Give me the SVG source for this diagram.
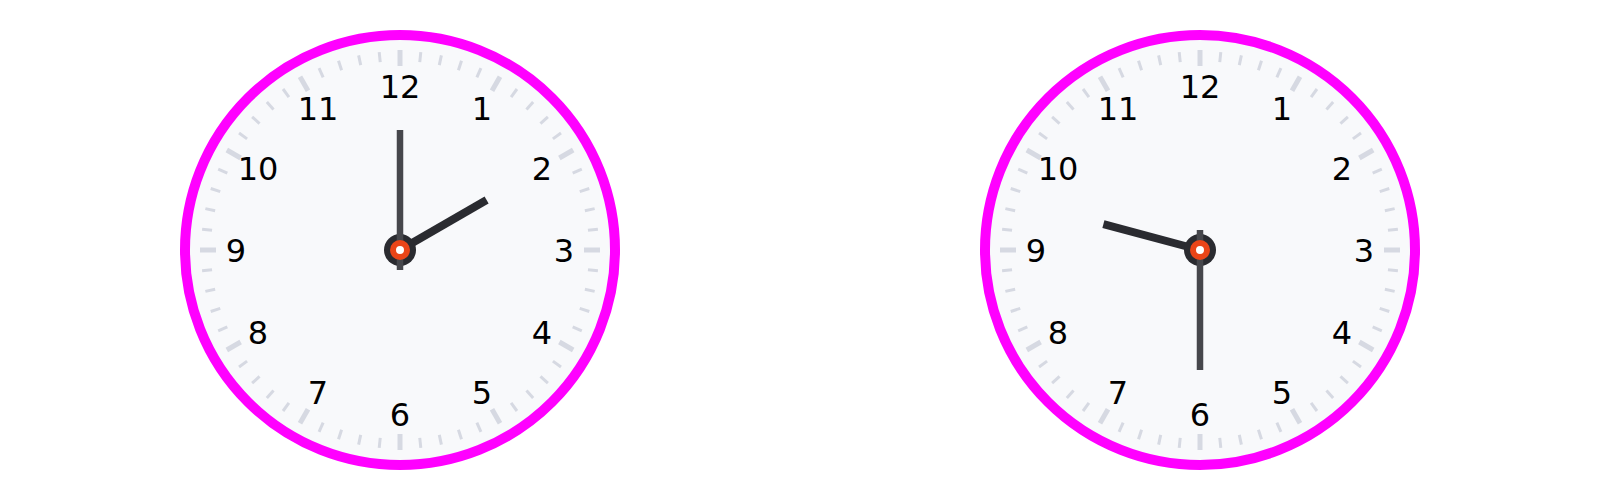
<svg xmlns="http://www.w3.org/2000/svg" xmlns:xlink="http://www.w3.org/1999/xlink" width="1600" height="500" viewBox="0 0 1600 500">
<style>
.face{fill:#f8f9fb;stroke:#ff00ff;stroke-width:10}
.minor{stroke:#d6d9e2;stroke-width:3}
.major{stroke:#d6d9e2;stroke-width:5}
.num{font-family:"DejaVu Sans",sans-serif;font-size:32px;fill:#000;text-anchor:middle}
.hour{stroke:#2a2b30;stroke-width:8}
.minute{stroke:#46474c;stroke-width:6.5}
.hub{fill:#2a2b30}
.pin{fill:#ffffff;stroke:#ea4518;stroke-width:6}
</style>
<defs>
<g id="ticks">
<line class="major" x1="0" y1="-200" x2="0" y2="-184" transform="rotate(0)"/>
<line class="minor" x1="0" y1="-199" x2="0" y2="-189" transform="rotate(6)"/>
<line class="minor" x1="0" y1="-199" x2="0" y2="-189" transform="rotate(12)"/>
<line class="minor" x1="0" y1="-199" x2="0" y2="-189" transform="rotate(18)"/>
<line class="minor" x1="0" y1="-199" x2="0" y2="-189" transform="rotate(24)"/>
<line class="major" x1="0" y1="-200" x2="0" y2="-184" transform="rotate(30)"/>
<line class="minor" x1="0" y1="-199" x2="0" y2="-189" transform="rotate(36)"/>
<line class="minor" x1="0" y1="-199" x2="0" y2="-189" transform="rotate(42)"/>
<line class="minor" x1="0" y1="-199" x2="0" y2="-189" transform="rotate(48)"/>
<line class="minor" x1="0" y1="-199" x2="0" y2="-189" transform="rotate(54)"/>
<line class="major" x1="0" y1="-200" x2="0" y2="-184" transform="rotate(60)"/>
<line class="minor" x1="0" y1="-199" x2="0" y2="-189" transform="rotate(66)"/>
<line class="minor" x1="0" y1="-199" x2="0" y2="-189" transform="rotate(72)"/>
<line class="minor" x1="0" y1="-199" x2="0" y2="-189" transform="rotate(78)"/>
<line class="minor" x1="0" y1="-199" x2="0" y2="-189" transform="rotate(84)"/>
<line class="major" x1="0" y1="-200" x2="0" y2="-184" transform="rotate(90)"/>
<line class="minor" x1="0" y1="-199" x2="0" y2="-189" transform="rotate(96)"/>
<line class="minor" x1="0" y1="-199" x2="0" y2="-189" transform="rotate(102)"/>
<line class="minor" x1="0" y1="-199" x2="0" y2="-189" transform="rotate(108)"/>
<line class="minor" x1="0" y1="-199" x2="0" y2="-189" transform="rotate(114)"/>
<line class="major" x1="0" y1="-200" x2="0" y2="-184" transform="rotate(120)"/>
<line class="minor" x1="0" y1="-199" x2="0" y2="-189" transform="rotate(126)"/>
<line class="minor" x1="0" y1="-199" x2="0" y2="-189" transform="rotate(132)"/>
<line class="minor" x1="0" y1="-199" x2="0" y2="-189" transform="rotate(138)"/>
<line class="minor" x1="0" y1="-199" x2="0" y2="-189" transform="rotate(144)"/>
<line class="major" x1="0" y1="-200" x2="0" y2="-184" transform="rotate(150)"/>
<line class="minor" x1="0" y1="-199" x2="0" y2="-189" transform="rotate(156)"/>
<line class="minor" x1="0" y1="-199" x2="0" y2="-189" transform="rotate(162)"/>
<line class="minor" x1="0" y1="-199" x2="0" y2="-189" transform="rotate(168)"/>
<line class="minor" x1="0" y1="-199" x2="0" y2="-189" transform="rotate(174)"/>
<line class="major" x1="0" y1="-200" x2="0" y2="-184" transform="rotate(180)"/>
<line class="minor" x1="0" y1="-199" x2="0" y2="-189" transform="rotate(186)"/>
<line class="minor" x1="0" y1="-199" x2="0" y2="-189" transform="rotate(192)"/>
<line class="minor" x1="0" y1="-199" x2="0" y2="-189" transform="rotate(198)"/>
<line class="minor" x1="0" y1="-199" x2="0" y2="-189" transform="rotate(204)"/>
<line class="major" x1="0" y1="-200" x2="0" y2="-184" transform="rotate(210)"/>
<line class="minor" x1="0" y1="-199" x2="0" y2="-189" transform="rotate(216)"/>
<line class="minor" x1="0" y1="-199" x2="0" y2="-189" transform="rotate(222)"/>
<line class="minor" x1="0" y1="-199" x2="0" y2="-189" transform="rotate(228)"/>
<line class="minor" x1="0" y1="-199" x2="0" y2="-189" transform="rotate(234)"/>
<line class="major" x1="0" y1="-200" x2="0" y2="-184" transform="rotate(240)"/>
<line class="minor" x1="0" y1="-199" x2="0" y2="-189" transform="rotate(246)"/>
<line class="minor" x1="0" y1="-199" x2="0" y2="-189" transform="rotate(252)"/>
<line class="minor" x1="0" y1="-199" x2="0" y2="-189" transform="rotate(258)"/>
<line class="minor" x1="0" y1="-199" x2="0" y2="-189" transform="rotate(264)"/>
<line class="major" x1="0" y1="-200" x2="0" y2="-184" transform="rotate(270)"/>
<line class="minor" x1="0" y1="-199" x2="0" y2="-189" transform="rotate(276)"/>
<line class="minor" x1="0" y1="-199" x2="0" y2="-189" transform="rotate(282)"/>
<line class="minor" x1="0" y1="-199" x2="0" y2="-189" transform="rotate(288)"/>
<line class="minor" x1="0" y1="-199" x2="0" y2="-189" transform="rotate(294)"/>
<line class="major" x1="0" y1="-200" x2="0" y2="-184" transform="rotate(300)"/>
<line class="minor" x1="0" y1="-199" x2="0" y2="-189" transform="rotate(306)"/>
<line class="minor" x1="0" y1="-199" x2="0" y2="-189" transform="rotate(312)"/>
<line class="minor" x1="0" y1="-199" x2="0" y2="-189" transform="rotate(318)"/>
<line class="minor" x1="0" y1="-199" x2="0" y2="-189" transform="rotate(324)"/>
<line class="major" x1="0" y1="-200" x2="0" y2="-184" transform="rotate(330)"/>
<line class="minor" x1="0" y1="-199" x2="0" y2="-189" transform="rotate(336)"/>
<line class="minor" x1="0" y1="-199" x2="0" y2="-189" transform="rotate(342)"/>
<line class="minor" x1="0" y1="-199" x2="0" y2="-189" transform="rotate(348)"/>
<line class="minor" x1="0" y1="-199" x2="0" y2="-189" transform="rotate(354)"/>
</g>
</defs>
<rect width="1600" height="500" fill="#ffffff"/>
<g id="clock1" transform="translate(400,250)">
<circle class="face" cx="0" cy="0" r="215"/>
<use xlink:href="#ticks" href="#ticks"/>
<text class="num" x="0" y="-152.4">12</text>
<text class="num" x="82" y="-130.4">1</text>
<text class="num" x="142" y="-70.4">2</text>
<text class="num" x="164" y="11.6">3</text>
<text class="num" x="142" y="93.6">4</text>
<text class="num" x="82" y="153.6">5</text>
<text class="num" x="0" y="175.6">6</text>
<text class="num" x="-82" y="153.6">7</text>
<text class="num" x="-142" y="93.6">8</text>
<text class="num" x="-164" y="11.6">9</text>
<text class="num" x="-142" y="-70.4">10</text>
<text class="num" x="-82" y="-130.4">11</text>
<line class="hour" x1="0" y1="0" x2="86.6" y2="-50"/>
<circle class="hub" cx="0" cy="0" r="16"/>
<line class="minute" x1="0" y1="20" x2="0" y2="-120"/>
<circle class="pin" cx="0" cy="0" r="7"/>
</g>
<g id="clock2" transform="translate(1200,250)">
<circle class="face" cx="0" cy="0" r="215"/>
<use xlink:href="#ticks" href="#ticks"/>
<text class="num" x="0" y="-152.4">12</text>
<text class="num" x="82" y="-130.4">1</text>
<text class="num" x="142" y="-70.4">2</text>
<text class="num" x="164" y="11.6">3</text>
<text class="num" x="142" y="93.6">4</text>
<text class="num" x="82" y="153.6">5</text>
<text class="num" x="0" y="175.6">6</text>
<text class="num" x="-82" y="153.6">7</text>
<text class="num" x="-142" y="93.6">8</text>
<text class="num" x="-164" y="11.6">9</text>
<text class="num" x="-142" y="-70.4">10</text>
<text class="num" x="-82" y="-130.4">11</text>
<line class="hour" x1="0" y1="0" x2="-96.6" y2="-25.9"/>
<circle class="hub" cx="0" cy="0" r="16"/>
<line class="minute" x1="0" y1="-20" x2="0" y2="120"/>
<circle class="pin" cx="0" cy="0" r="7"/>
</g>
</svg>
